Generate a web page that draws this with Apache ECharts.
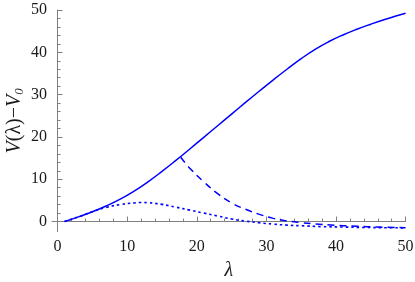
<!DOCTYPE html>
<html>
<head>
<meta charset="utf-8">
<script src="https://cdn.jsdelivr.net/npm/echarts@6/dist/echarts.min.js"></script>
<style>html,body{margin:0;padding:0;background:#fff}#c{width:415px;height:282px}</style>
</head>
<body>
<div id="c"></div>
<script>
// Data
var solidX = [1, 3, 5, 7, 9, 11, 13, 15, 17, 19, 21, 23, 25, 27, 29, 31, 33, 35, 37, 39, 41, 43, 45, 47, 49, 50];
var solidY = [0, 1.1, 2.3, 3.7, 5.3, 7.2, 9.4, 11.85, 14.45, 17.15, 19.9, 22.65, 25.4, 28.15, 30.85, 33.5, 36.05, 38.5, 40.7, 42.55, 44.1, 45.45, 46.65, 47.75, 48.75, 49.25];
var dashX = [17.7, 19, 21, 23, 25, 27, 29, 31, 33, 35, 37, 40, 43, 46, 50];
var dashY = [15.2, 12.6, 9.4, 6.6, 4.4, 2.9, 1.7, 0.75, 0.15, -0.25, -0.55, -0.9, -1.1, -1.3, -1.45];
var dotX = [1, 3, 5, 7, 9, 11, 12, 13, 15, 17, 19, 21, 23, 25, 27, 29, 31, 33, 35, 38, 41, 44, 47, 50];
var dotY = [0, 1.1, 2.3, 3.35, 4.0, 4.4, 4.5, 4.45, 4.05, 3.4, 2.7, 2.0, 1.3, 0.6, 0.1, -0.3, -0.6, -0.85, -1.0, -1.2, -1.3, -1.4, -1.45, -1.5];
var xTicks = [0, 10, 20, 30, 40, 50];
var yTicks = [0, 10, 20, 30, 40, 50];
var xMinor = [2, 4, 6, 8, 12, 14, 16, 18, 22, 24, 26, 28, 32, 34, 36, 38, 42, 44, 46, 48];
var yMinor = [2, 4, 6, 8, 12, 14, 16, 18, 22, 24, 26, 28, 32, 34, 36, 38, 42, 44, 46, 48];

function pairs(xs, ys) { return xs.map(function (x, i) { return [x, ys[i]]; }); }

var serif = "'Liberation Serif', 'DejaVu Serif', serif";
var axisColor = '#808080';
var textColor = '#1a1a1a';
var xMin = -0.8, xMax = 50, yMin = -2.4, yMax = 50;

function xAxisDef(major) {
  return {
    type: 'value', min: xMin, max: xMax, position: 'bottom',
    axisLine: { show: major, lineStyle: { color: axisColor, width: 1 } },
    axisTick: { show: true, inside: true, length: major ? 5 : 3, customValues: major ? xTicks : xMinor, lineStyle: { color: axisColor } },
    axisLabel: major ? { show: true, customValues: xTicks, margin: 7, fontFamily: serif, fontSize: 16, color: textColor } : { show: false },
    splitLine: { show: false },
    name: major ? 'λ' : '',
    nameLocation: 'middle', nameGap: 29, nameMoveOverlap: false,
    nameTextStyle: { fontFamily: serif, fontSize: 20, fontStyle: 'italic', color: textColor }
  };
}
function yAxisDef(major) {
  return {
    type: 'value', min: yMin, max: yMax, position: 'left',
    axisLine: { show: major, lineStyle: { color: axisColor, width: 1 } },
    axisTick: { show: true, inside: true, length: major ? 5 : 3, customValues: major ? yTicks : yMinor, lineStyle: { color: axisColor } },
    axisLabel: major ? { show: true, customValues: yTicks, margin: 5, fontFamily: serif, fontSize: 16, color: textColor } : { show: false },
    splitLine: { show: false },
    name: major ? '{i|V}(λ)−{i|V}{s|0}' : '',
    nameLocation: 'middle', nameGap: 26, nameRotate: 90, nameMoveOverlap: false,
    nameTextStyle: {
      fontFamily: serif, fontSize: 20, color: textColor, lineHeight: 22,
      rich: {
        i: { fontFamily: serif, fontSize: 20, fontStyle: 'italic', color: textColor },
        s: { fontFamily: serif, fontSize: 13, fontStyle: 'italic', color: textColor, verticalAlign: 'bottom', lineHeight: 16 }
      }
    }
  };
}

var blue = '#0000ff';
var chart = echarts.init(document.getElementById('c'), null, { renderer: 'canvas' });
chart.setOption({
  animation: false,
  backgroundColor: '#ffffff',
  grid: { left: 52, right: 9.4, top: 10, bottom: 50.3, containLabel: false, outerBoundsMode: 'none' },
  xAxis: [xAxisDef(true), xAxisDef(false)],
  yAxis: [yAxisDef(true), yAxisDef(false)],
  series: [
    { type: 'line', data: pairs(solidX, solidY), showSymbol: false, smooth: 0.5, lineStyle: { color: blue, width: 1.5, type: 'solid' } },
    { type: 'line', data: pairs(dashX, dashY), showSymbol: false, smooth: 0.5, lineStyle: { color: blue, width: 1.5, type: [7, 5] } },
    { type: 'line', data: pairs(dotX, dotY), showSymbol: false, smooth: 0.5, lineStyle: { color: blue, width: 1.6, type: [2.5, 3] } }
  ]
});
</script>
</body>
</html>
